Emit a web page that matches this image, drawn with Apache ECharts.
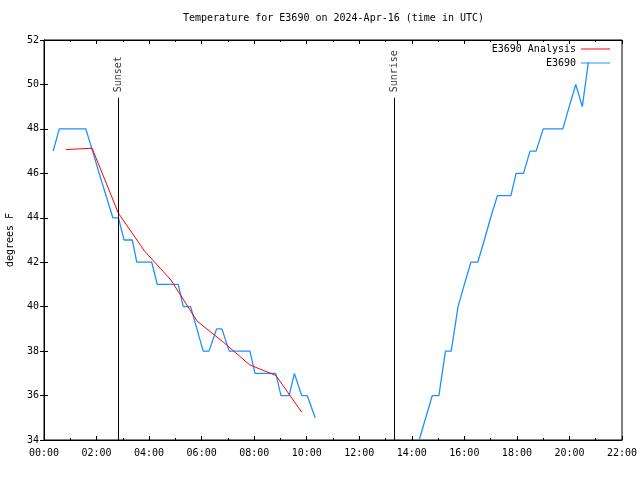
<!DOCTYPE html>
<html>
<head>
<meta charset="utf-8">
<script src="https://cdn.jsdelivr.net/npm/echarts@6/dist/echarts.min.js"></script>
<style>
html,body{margin:0;padding:0;background:#fff;}
#chart{width:640px;height:480px;}
</style>
</head>
<body>
<div id="chart"></div>
<script>
// ---- data (hours UTC, degrees F) ----
var titleText = 'Temperature for E3690 on 2024-Apr-16 (time in UTC)';
var obsName = 'E3690';
var anaName = 'E3690 Analysis';
var obsTimes = [0.35,0.58,1.59,1.85,2.10,2.36,2.62,2.83,3.05,3.36,3.53,4.10,4.31,5.11,5.30,5.58,5.82,6.06,6.28,6.57,6.77,7.05,7.84,8.03,8.82,9.02,9.33,9.53,9.81,10.02,10.32,
                12.0,
                14.28,14.53,14.78,15.03,15.28,15.50,15.76,16.00,16.25,16.51,16.76,17.00,17.26,17.77,17.97,18.25,18.50,18.73,19.00,19.75,19.99,20.24,20.49,20.72];
var obsTemps = [47,48,48,47,46,45,44,44,43,43,42,42,41,41,40,40,39,38,38,39,39,38,38,37,37,36,36,37,36,36,35,
                '-',
                34,35,36,36,38,38,40,41,42,42,43,44,45,45,46,46,47,47,48,48,49,50,49,51];
var anaTimes = [0.84,1.83,2.83,3.83,4.83,5.83,6.83,7.83,8.83,9.81];
var anaTemps = [47.07,47.13,44.21,42.5,41.2,39.35,38.4,37.38,36.9,35.25];
var eventNames = ['Sunset','Sunrise'];
var eventTimes = [2.83,13.32];
var eventLineTop = 49.4;
var xTicks = [0,2,4,6,8,10,12,14,16,18,20,22];
var yTicks = [34,36,38,40,42,44,46,48,50,52];

var font = 'DejaVu Sans Mono';
function pair(a,b){ return a.map(function(v,i){ return [v,b[i]]; }); }
function hhmm(v){ var h=Math.floor(v); return (h<10?'0':'')+h+':00'; }

var chart = echarts.init(document.getElementById('chart'), null, {renderer:'canvas'});
var axisCommonX = {
  type:'value', min:xTicks[0], max:xTicks[xTicks.length-1], interval:2,
  axisLine:{show:true,lineStyle:{color:'#000',width:1}},
  axisTick:{show:true,inside:true,length:4,lineStyle:{color:'#000'}},
  minorTick:{show:true,splitNumber:2,length:2,lineStyle:{color:'#000'}},
  splitLine:{show:false}
};
var axisCommonY = {
  type:'value', min:yTicks[0], max:yTicks[yTicks.length-1], interval:2,
  axisLine:{show:true,lineStyle:{color:'#000',width:1}},
  axisTick:{show:true,inside:true,length:4,lineStyle:{color:'#000'}},
  splitLine:{show:false}
};
var option = {
  backgroundColor:'#fff',
  animation:false,
  title:{text:titleText,left:183,top:13,padding:0,
    textStyle:{fontFamily:font,fontSize:10,fontWeight:'normal',color:'#000'}},
  legend:{
    data:[anaName,obsName], orient:'vertical', right:30, top:43, align:'right',
    icon:'rect', itemWidth:29, itemHeight:1, itemGap:2, padding:0,
    textStyle:{fontFamily:font,fontSize:10,color:'#000',lineHeight:12}
  },
  grid:{left:44,right:18,top:40,bottom:40,show:true,borderColor:'#000',borderWidth:1,
    containLabel:false,outerBoundsMode:'none'},
  xAxis:[
    Object.assign({}, axisCommonX, {position:'bottom',
      axisLabel:{show:true,margin:8,fontFamily:font,fontSize:10,color:'#000',formatter:hhmm}}),
    Object.assign({}, axisCommonX, {position:'top',axisLabel:{show:false}})
  ],
  yAxis:[
    Object.assign({}, axisCommonY, {position:'left',name:'degrees F',nameLocation:'middle',nameGap:29,nameRotate:90,
      nameTextStyle:{fontFamily:font,fontSize:10,color:'#000'},
      axisLabel:{show:true,margin:5,fontFamily:font,fontSize:10,color:'#000'}}),
    Object.assign({}, axisCommonY, {position:'right',axisLabel:{show:false}})
  ],
  series:[
    {name:anaName,type:'line',data:pair(anaTimes,anaTemps),showSymbol:false,symbol:'none',
      lineStyle:{color:'#ff0000',width:1},itemStyle:{color:'#ff0000'},z:3},
    {name:obsName,type:'line',data:pair(obsTimes,obsTemps),showSymbol:false,symbol:'none',connectNulls:false,
      lineStyle:{color:'#1e90ff',width:1.3},itemStyle:{color:'#1e90ff'},z:2},
    {name:'events',type:'scatter',symbolSize:1,itemStyle:{color:'rgba(0,0,0,0)'},silent:true,
      data:eventTimes.map(function(t,i){ return [t,eventLineTop,eventNames[i]]; }),
      label:{show:true,position:'top',distance:5,rotate:90,align:'left',verticalAlign:'middle',
        formatter:function(p){return p.value[2];},fontFamily:font,fontSize:10,color:'#000'},
      markLine:{silent:true,symbol:['none','none'],label:{show:false},
        lineStyle:{color:'#000',width:1,type:'solid'},
        data:eventTimes.map(function(t){ return [{coord:[t,yTicks[0]]},{coord:[t,eventLineTop]}]; })}
    }
  ]
};
chart.setOption(option);
</script>
</body>
</html>
